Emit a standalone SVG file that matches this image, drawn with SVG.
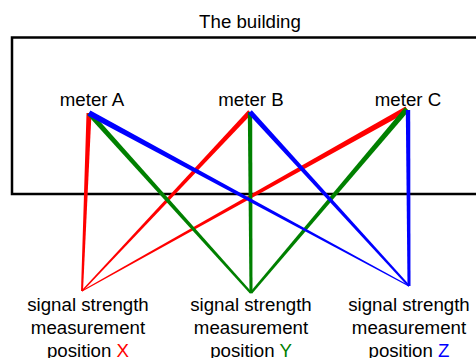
<svg xmlns="http://www.w3.org/2000/svg" width="476" height="358" viewBox="0 0 476 358">
<style>
text { font-family: "Liberation Sans", Arial, sans-serif; font-size: 18.7px; fill: #000; text-anchor: middle; }
.r { fill: #ff0000; }
.g { fill: #008000; }
.b { fill: #0000ff; }
</style>
<rect x="0" y="0" width="476" height="358" fill="#ffffff"/>
<g id="building">
<rect x="12" y="37.5" width="480" height="156.5" fill="none" stroke="#000" stroke-width="2.5"/>
<text x="250" y="28">The building</text>
</g>
<g id="meterA"><text x="92" y="106">meter A</text></g>
<g id="meterB"><text x="251" y="106">meter B</text></g>
<g id="meterC"><text x="408" y="106">meter C</text></g>
<g id="connectors">
<polygon class="r" points="91.5,113.1 86.5,112.9 81,291 83,291"/>
<polygon class="r" points="251.8,113.7 248.2,110.3 81.5,290.5 82.5,291.5"/>
<polygon class="r" points="408.5,111.6 405.5,106.4 81.8,290.6 82.2,291.4"/>
<polygon class="g" points="90.9,111.3 87.1,114.7 250.1,293.8 251.9,292.2"/>
<polygon class="g" points="252.2,112 247.8,112 249.5,293 252.5,293"/>
<polygon class="g" points="409.1,110.8 404.9,107.2 250,292.2 252,293.8"/>
<polygon class="b" points="90.4,110.4 87.6,115.6 408.8,286.4 409.2,285.6"/>
<polygon class="b" points="251.8,110.3 248.2,113.7 408.3,286.7 409.7,285.3"/>
<polygon class="b" points="410.2,110 405.8,110 407.5,286 410.5,286"/>
</g>
<g id="posX">
<text x="88" y="310.5">signal strength</text>
<text x="88" y="333.5">measurement</text>
<text x="88" y="356.5">position <tspan class="r">X</tspan></text>
</g>
<g id="posY">
<text x="251" y="310.5">signal strength</text>
<text x="251" y="333.5">measurement</text>
<text x="251" y="356.5">position <tspan class="g">Y</tspan></text>
</g>
<g id="posZ">
<text x="409" y="310.5">signal strength</text>
<text x="409" y="333.5">measurement</text>
<text x="409" y="356.5">position <tspan class="b">Z</tspan></text>
</g>
</svg>
